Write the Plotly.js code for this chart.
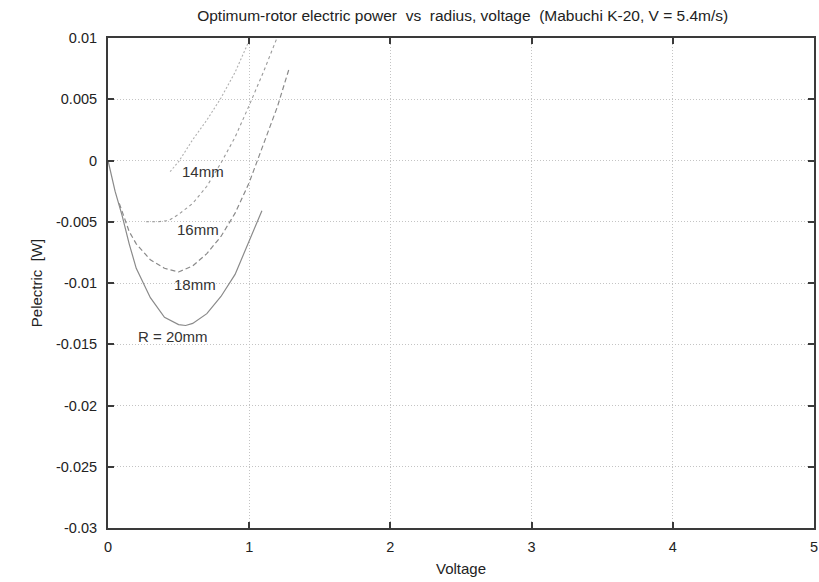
<!DOCTYPE html>
<html>
<head>
<meta charset="utf-8">
<script src="https://cdn.plot.ly/plotly-3.0.1.min.js"></script>
<style>html,body{margin:0;padding:0;background:#fff;}#chart{width:819px;height:582px;}</style>
</head>
<body>
<div id="chart"></div>
<script>
// Data (Voltage [V] vs Pelectric [W])
const v20 = [0, 0.05, 0.1, 0.15, 0.2, 0.3, 0.4, 0.5, 0.55, 0.6, 0.7, 0.8, 0.9, 1.0, 1.09];
const p20 = [0, -0.0025, -0.0045, -0.0068, -0.0088, -0.0112, -0.0128, -0.0134, -0.01347, -0.0133, -0.0125, -0.0111, -0.0093, -0.0066, -0.0041];

const v18 = [0.08, 0.15, 0.2, 0.3, 0.4, 0.5, 0.6, 0.7, 0.8, 0.9, 1.0, 1.1, 1.2, 1.28];
const p18 = [-0.0035, -0.0058, -0.0068, -0.0081, -0.0088, -0.0091, -0.0086, -0.0076, -0.0062, -0.0043, -0.0018, 0.0013, 0.0044, 0.0074];

const v16 = [0.27, 0.35, 0.43, 0.5, 0.6, 0.7, 0.8, 0.9, 1.0, 1.1, 1.2];
const p16 = [-0.005, -0.005, -0.0049, -0.0044, -0.0035, -0.0021, -0.0002, 0.0019, 0.0045, 0.0072, 0.0101];

const v14 = [0.44, 0.5, 0.6, 0.7, 0.8, 0.9, 1.0];
const p14 = [-0.0009, -0.0001, 0.0017, 0.0033, 0.0051, 0.0072, 0.0098];

const curveLabels = ["R = 20mm", "18mm", "16mm", "14mm"];
const labelX = [0.2, 0.453, 0.477, 0.512];
const labelY = [-0.01437, -0.01015, -0.00566, -0.00087];

const xTickVals = [0, 1, 2, 3, 4, 5];
const xTickText = ["0", "1", "2", "3", "4", "5"];
const yTickVals = [0.01, 0.005, 0, -0.005, -0.01, -0.015, -0.02, -0.025, -0.03];
const yTickText = ["0.01", "0.005", "0", "-0.005", "-0.01", "-0.015", "-0.02", "-0.025", "-0.03"];

const titleText = "Optimum-rotor electric power \u00a0vs \u00a0radius, voltage \u00a0(Mabuchi K-20, V = 5.4m/s)";
const xTitle = "Voltage";
const yTitle = "Pelectric \u00a0[W]";

const FONT = "Liberation Sans, Arial, sans-serif";

const traces = [
  {x: v20, y: p20, mode: "lines", line: {color: "#8a8a8a", width: 1.2, dash: "solid"}, hoverinfo: "skip"},
  {x: v18, y: p18, mode: "lines", line: {color: "#8a8a8a", width: 1.2, dash: "5px,3px"}, hoverinfo: "skip"},
  {x: v16, y: p16, mode: "lines", line: {color: "#9a9a9a", width: 1.1, dash: "3px,3px"}, hoverinfo: "skip"},
  {x: v14, y: p14, mode: "lines", line: {color: "#b0b0b0", width: 1.1, dash: "2px,2px"}, hoverinfo: "skip"}
];

const annotations = curveLabels.map((t, i) => ({
  x: labelX[i], y: labelY[i], xref: "x", yref: "y", text: t, showarrow: false,
  xanchor: "left", yanchor: "middle", font: {family: FONT, size: 15, color: "#333"}
}));

const axisCommon = {
  showline: true, linecolor: "#3a3a3a", linewidth: 2, mirror: "ticks",
  ticks: "inside", ticklen: 6, tickwidth: 2, tickcolor: "#3a3a3a",
  showgrid: true, gridcolor: "#c4c4c4", gridwidth: 1, griddash: "1px,2px",
  zeroline: false, tickmode: "array",
  tickfont: {family: FONT, size: 14.5, color: "#222"}
};

const layout = {
  width: 819, height: 582,
  margin: {l: 108, r: 5, t: 38, b: 54},
  paper_bgcolor: "#fff", plot_bgcolor: "#fff",
  showlegend: false,
  title: {text: titleText, font: {family: FONT, size: 15.5, color: "#222"}, x: 0.565, xanchor: "center", y: 0.974, yanchor: "middle"},
  xaxis: Object.assign({}, axisCommon, {
    range: [0, 5], tickvals: xTickVals, ticktext: xTickText, ticklabelstandoff: 5,
    title: {text: xTitle, font: {family: FONT, size: 15, color: "#222"}, standoff: 9}
  }),
  yaxis: Object.assign({}, axisCommon, {
    range: [-0.03, 0.01], tickvals: yTickVals, ticktext: yTickText, ticklabelstandoff: 6,
    title: {text: yTitle, font: {family: FONT, size: 15, color: "#222"}, standoff: 10}
  }),
  annotations: annotations
};

Plotly.newPlot("chart", traces, layout, {staticPlot: true, displayModeBar: false});
</script>
</body>
</html>
